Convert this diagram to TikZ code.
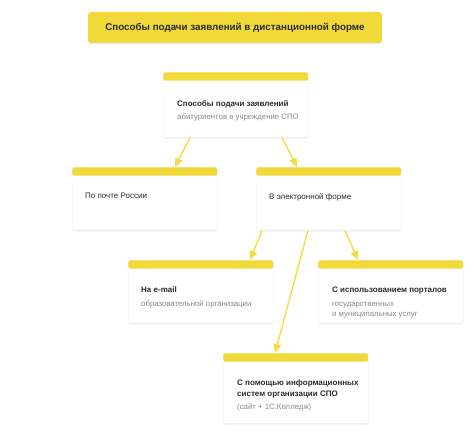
\documentclass[tikz,border=0pt]{standalone}
\usepackage{fontspec}
\setmainfont{Liberation Sans}
\usetikzlibrary{arrows.meta,shadows}
\definecolor{strip}{HTML}{F2D93A}
\definecolor{arrowyellow}{HTML}{F4DE48}
\definecolor{darktext}{HTML}{2B2B2B}
\definecolor{subgray}{HTML}{8A8A8A}
\newcommand{\subtext}[1]{{\color{subgray}\mdseries\fontsize{7.8}{10}\selectfont #1}}

\begin{document}
\begin{tikzpicture}[x=1pt, y=-1pt,
    card/.style={rectangle, rounded corners=2pt, fill=white, draw=black!6,
      minimum width=145pt, minimum height=#1, inner sep=0pt, anchor=north west,
      drop shadow={opacity=0.12, shadow xshift=0pt, shadow yshift=-1.5pt},
      path picture={\fill[strip] (path picture bounding box.north west)
        rectangle ([yshift=-8.5pt]path picture bounding box.north east);}},
    card/.default=63pt,
    cardtext/.style={anchor=north west, inner sep=0pt, align=left,
      font=\fontsize{8}{10.5}\selectfont\bfseries, text=darktext},
    flow/.style={draw=arrowyellow, line width=1.4pt,
      -{Triangle[length=9pt, width=8pt]}}]
  \useasboundingbox (0,0) rectangle (474,438);

  % Title
  \node[rectangle, rounded corners=3pt, fill=strip, minimum width=294pt,
    minimum height=31pt, inner sep=0pt, text=darktext,
    font=\fontsize{9.8}{11}\selectfont\bfseries,
    drop shadow={opacity=0.12, shadow xshift=0pt, shadow yshift=-1.5pt}]
    at (235,27.5) (title) {Способы подачи заявлений в дистанционной форме};

  % Cards
  \node[card=65pt] at (163,72) (apply) {};
  \node[card] at (72,167) (post) {};
  \node[card] at (256,167) (online) {};
  \node[card] at (128,260) (email) {};
  \node[card] at (318,260) (portal) {};
  \node[card=70pt] at (223,353) (infosys) {};

  % Texts
  \node[cardtext] at ([shift={(14,28)}]apply.north west) (applytext)
    {Способы подачи заявлений\\[3pt]\subtext{абитуриентов в учреждение СПО}};
  \node[cardtext] at ([shift={(13,26)}]post.north west) (posttext)
    {\mdseries По почте России};
  \node[cardtext] at ([shift={(13,26)}]online.north west) (onlinetext)
    {\mdseries В электронной форме};
  \node[cardtext] at ([shift={(13,27)}]email.north west) (emailtext)
    {На e-mail\\[3pt]\subtext{образовательной организации}};
  \node[cardtext] at ([shift={(14,27)}]portal.north west) (portaltext)
    {С использованием порталов\\[3pt]\subtext{государственных}\\[-0.5pt]\subtext{и муниципальных услуг}};
  \node[cardtext] at ([shift={(14,27)}]infosys.north west) (infosystext)
    {С помощью информационных\\систем организации СПО\\[3pt]\subtext{(сайт + 1С:Колледж)}};

  % Arrows
  \draw[flow] ([xshift=27pt]apply.south west) -- ([xshift=103pt]post.north west);
  \draw[flow] ([xshift=119pt]apply.south west) -- ([xshift=41pt]online.north west);
  \draw[flow] ([xshift=6pt]online.south west) -- ([xshift=122pt]email.north west);
  \draw[flow] ([xshift=89pt]online.south west) -- ([xshift=40pt]portal.north west);
  \draw[flow] ([xshift=52pt]online.south west) -- ([xshift=52pt]infosys.north west);
\end{tikzpicture}
\end{document}
